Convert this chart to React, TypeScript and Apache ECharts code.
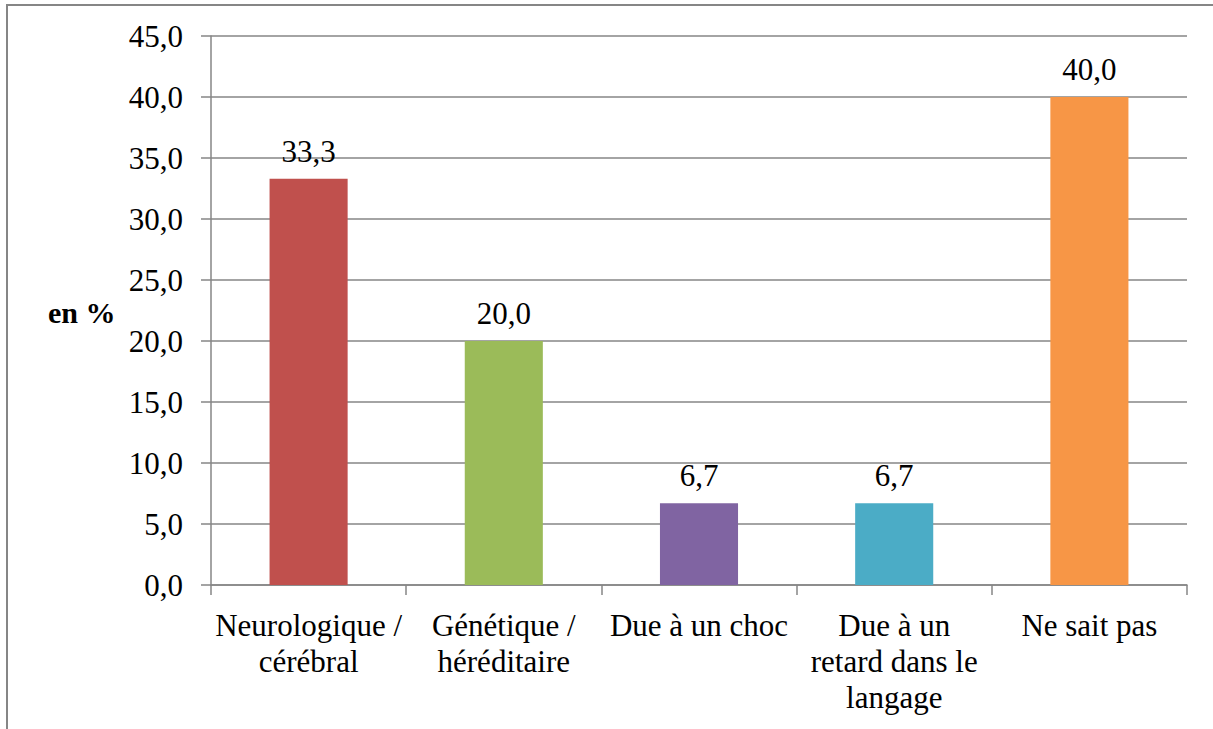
import React, { useEffect, useRef } from "react";
import * as echarts from "echarts";

const categories = [
  "Neurologique /\ncérébral",
  "Génétique /\nhéréditaire",
  "Due à un choc",
  "Due à un\nretard dans le\nlangage",
  "Ne sait pas",
];
const values = [33.3, 20.0, 6.7, 6.7, 40.0];
const colors = ["#C0504D", "#9BBB59", "#8064A2", "#4BACC6", "#F79646"];
const yTicks = { min: 0, max: 45, interval: 5 };
const yName = "en %";

const FONT = "Liberation Serif";
const FS = 31;

export default function App() {
  const ref = useRef<HTMLDivElement>(null);
  useEffect(() => {
    const chart = echarts.init(ref.current!, null, { renderer: "svg" });
    chart.setOption({
      animation: false,
      backgroundColor: "#ffffff",
      textStyle: { fontFamily: FONT },
      grid: { left: 211, top: 36, right: 26, bottom: 144, containLabel: false },
      xAxis: {
        type: "category",
        data: categories,
        axisLine: { lineStyle: { color: "#868686", width: 1.5 } },
        axisTick: { show: true, length: 10, lineStyle: { color: "#868686", width: 1.5 } },
        axisLabel: {
          interval: 0,
          color: "#000",
          fontFamily: FONT,
          fontSize: FS,
          lineHeight: 36,
          margin: 22,
        },
      },
      yAxis: {
        type: "value",
        min: yTicks.min,
        max: yTicks.max,
        interval: yTicks.interval,
        axisLine: { show: true, lineStyle: { color: "#868686", width: 1.5 } },
        axisTick: { show: true, length: 10, lineStyle: { color: "#868686", width: 1.5 } },
        splitLine: { lineStyle: { color: "#868686", width: 1.5 } },
        axisLabel: {
          color: "#000",
          fontFamily: FONT,
          fontSize: FS,
          margin: 28,
          formatter: (v: number) => v.toFixed(1).replace(".", ","),
        },
      },
      series: [
        {
          type: "bar",
          barWidth: "40%",
          data: values.map((v, i) => ({ value: v, itemStyle: { color: colors[i] } })),
          label: {
            show: true,
            position: "top",
            distance: 12,
            color: "#000",
            fontFamily: FONT,
            fontSize: FS,
            formatter: (p: any) => p.value.toFixed(1).replace(".", ","),
          },
        },
      ],
      graphic: [
        {
          type: "rect",
          shape: { x: 7, y: 5, width: 1300, height: 900 },
          style: { fill: "none", stroke: "#868686", lineWidth: 2 },
          silent: true,
        },
        {
          type: "text",
          x: 48,
          y: 312,
          style: {
            text: yName,
            fontFamily: FONT,
            fontWeight: "bold",
            fontSize: 30,
            fill: "#000",
            verticalAlign: "middle",
          },
        },
      ],
    });
    return () => chart.dispose();
  }, []);
  return (
    <div
      ref={ref}
      style={{ position: "fixed", left: 0, top: 0, width: 1213, height: 729 }}
    />
  );
}
